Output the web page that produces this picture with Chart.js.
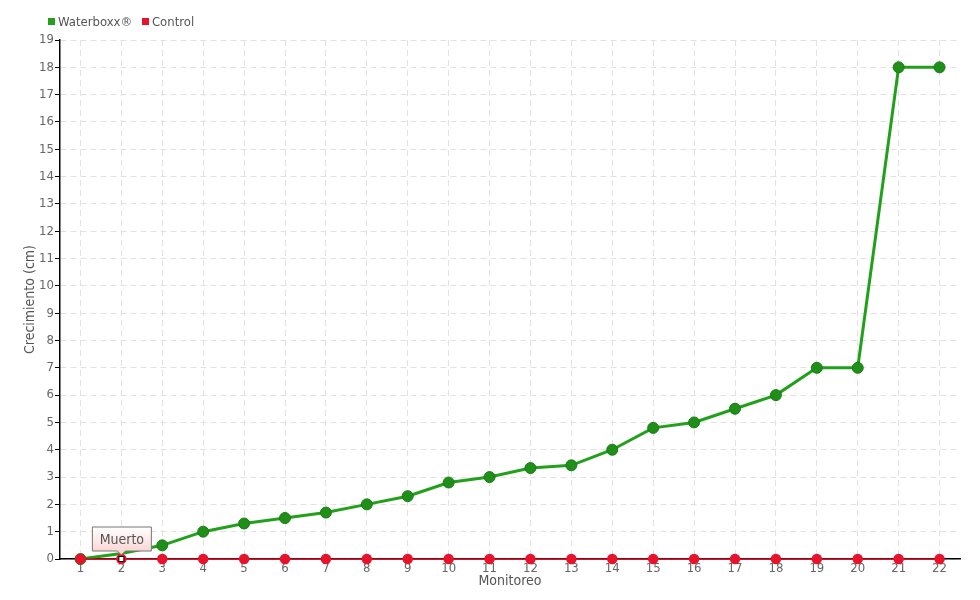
<!DOCTYPE html>
<html>
<head>
<meta charset="utf-8">
<script src="https://cdn.jsdelivr.net/npm/chart.js@4"></script>
<style>
  body { margin: 0; background: #fff; }
  #wrap { position: relative; width: 980px; height: 600px; }
  #legend { position: absolute; left: 48px; top: 14px; font: 13px "DejaVu Sans Condensed", "Liberation Sans Narrow", sans-serif; color: #555; }
  #legend span.box { display: inline-block; width: 7px; height: 7px; margin-right: 3px; vertical-align: 1px; }
  #legend span.item { margin-right: 6px; }
</style>
</head>
<body>
<div id="wrap">
  <canvas id="chart" width="980" height="600"></canvas>
  <div id="legend">
    <span class="item"><span class="box" style="background:#22a01c"></span>Waterboxx®</span>
    <span class="item"><span class="box" style="background:#e8132b"></span>Control</span>
  </div>
</div>
<script>
// Datos
const monitoreos = ['1','2','3','4','5','6','7','8','9','10','11','12','13','14','15','16','17','18','19','20','21','22'];
const waterboxx = [0, 0.2, 0.5, 1, 1.3, 1.5, 1.7, 2, 2.3, 2.8, 3, 3.33, 3.43, 4, 4.8, 5, 5.5, 6, 7, 7, 18, 18];
const control = [0, 0, 0, 0, 0, 0, 0, 0, 0, 0, 0, 0, 0, 0, 0, 0, 0, 0, 0, 0, 0, 0];
const yTicks = [0,1,2,3,4,5,6,7,8,9,10,11,12,13,14,15,16,17,18,19];
const nota = { index: 1, texto: 'Muerto' };

const fontFam = '"DejaVu Sans Condensed", "Liberation Sans Narrow", sans-serif';

// Etiqueta "Muerto" sobre el punto del control
const notaPlugin = {
  id: 'nota',
  afterDatasetsDraw(chart) {
    const ctx = chart.ctx;
    const x = chart.scales.x.getPixelForValue(nota.index);
    const y = chart.scales.y.getPixelForValue(control[nota.index]);
    ctx.save();
    // marcador
    ctx.fillStyle = '#fff';
    ctx.strokeStyle = '#000';
    ctx.lineWidth = 1;
    ctx.fillRect(x - 2.5, y - 2.5, 5, 5);
    ctx.strokeRect(x - 2.5, y - 2.5, 5, 5);
    // caja
    const w = 59, h = 24;
    const bx = x - 29, by = y - 32;
    const g = ctx.createLinearGradient(0, by, 0, by + h);
    g.addColorStop(0, '#ffffff');
    g.addColorStop(1, '#fcd6d6');
    ctx.beginPath();
    ctx.moveTo(bx, by);
    ctx.lineTo(bx + w, by);
    ctx.lineTo(bx + w, by + h);
    ctx.lineTo(x + 4, by + h);
    ctx.lineTo(x, by + h + 4);
    ctx.lineTo(x - 4, by + h);
    ctx.lineTo(bx, by + h);
    ctx.closePath();
    ctx.fillStyle = g;
    ctx.fill();
    ctx.strokeStyle = '#777';
    ctx.stroke();
    ctx.fillStyle = '#555';
    ctx.font = '14px ' + fontFam;
    ctx.textAlign = 'center';
    ctx.textBaseline = 'middle';
    ctx.fillText(nota.texto, bx + w / 2, by + h / 2 + 1);
    ctx.restore();
  }
};

const ctx = document.getElementById('chart').getContext('2d');
new Chart(ctx, {
  type: 'line',
  data: {
    labels: monitoreos,
    datasets: [{
      label: 'Waterboxx®',
      data: waterboxx,
      borderColor: '#22a01c',
      borderWidth: 3,
      backgroundColor: '#1f8f1a',
      pointBorderColor: '#1a7a16',
      pointBorderWidth: 1,
      pointRadius: waterboxx.map((v, i) => i === nota.index ? 0 : 5.5),
      tension: 0,
      clip: false,
      order: 2
    }, {
      label: 'Control',
      data: control,
      borderColor: '#d0021b',
      borderWidth: 1.5,
      backgroundColor: '#e8132b',
      pointBorderColor: '#e8132b',
      pointRadius: 4.5,
      tension: 0,
      clip: false,
      order: 1
    }]
  },
  options: {
    responsive: false,
    animation: false,
    layout: { padding: { top: 40, right: 20, left: 22, bottom: 10 } },
    plugins: {
      legend: { display: false },
      tooltip: { enabled: false }
    },
    scales: {
      x: {
        offset: true,
        grid: {
          offset: false,
          color: '#e2e2e2',
          drawTicks: false,
          tickBorderDash: []
        },
        border: { color: '#000', width: 1.5, dash: [6, 4] },
        ticks: { color: '#666', font: { family: fontFam, size: 13 }, padding: 2 },
        title: { display: true, text: 'Monitoreo', color: '#555', font: { family: fontFam, size: 14 }, padding: 0 },
        afterFit(scale) { scale.height = 31; }
      },
      y: {
        min: 0,
        max: 19,
        afterBuildTicks(scale) { scale.ticks = yTicks.map(v => ({ value: v })); },
        grid: {
          color: '#e2e2e2',
          tickColor: '#000',
          tickLength: 5,
          tickBorderDash: []
        },
        border: { color: '#000', width: 1.5, dash: [6, 4] },
        ticks: { color: '#666', font: { family: fontFam, size: 13 }, padding: 1 },
        title: { display: true, text: 'Crecimiento (cm)', color: '#555', font: { family: fontFam, size: 14 }, padding: 0 },
        afterFit(scale) { scale.width = 38; }
      }
    }
  },
  plugins: [notaPlugin]
});
</script>
</body>
</html>
